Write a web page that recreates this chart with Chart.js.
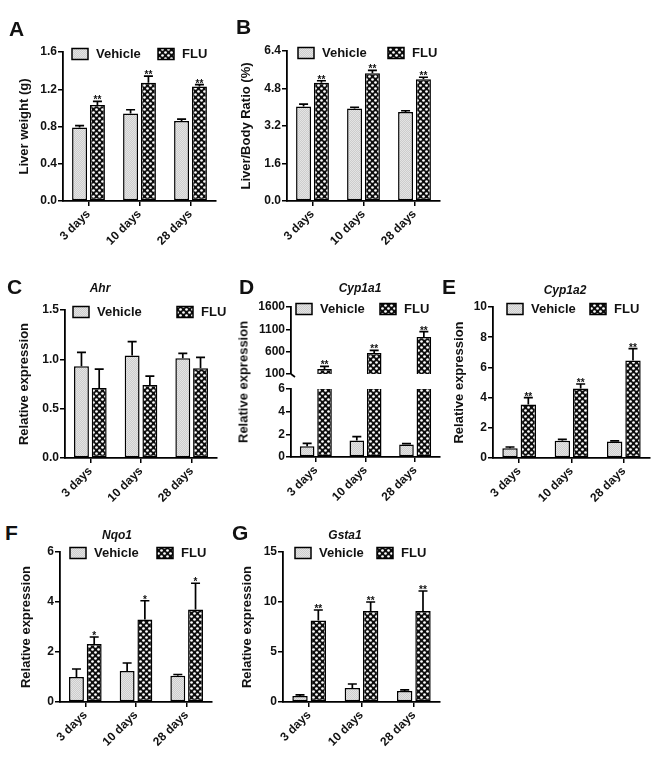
<!DOCTYPE html>
<html>
<head>
<meta charset="utf-8">
<script src="https://cdn.jsdelivr.net/npm/chart.js@4.4.1/dist/chart.umd.min.js"></script>
<style>
  html, body { margin: 0; padding: 0; background: #fff; }
  body { width: 660px; height: 777px; position: relative; overflow: hidden; font-family: "Liberation Sans", Arial, sans-serif; color: #111; }
  canvas { position: absolute; }
  .letter { position: absolute; font-weight: bold; font-size: 21px; line-height: 21px; color: #111; }
  .gene { position: absolute; font-weight: bold; font-style: italic; font-size: 12px; line-height: 14px; color: #111; transform: translateX(-50%); white-space: nowrap; }
  .ytitle { position: absolute; font-weight: bold; font-size: 13px; line-height: 15px; color: #111; white-space: nowrap; transform: translate(-50%, -50%) rotate(-90deg); }
</style>
</head>
<body>
<script>
// ---------------- DATA ----------------
const categories = ['3 days', '10 days', '28 days'];
const seriesNames = ['Vehicle', 'FLU'];

// A: Liver weight (g)
const liverWeightVehicle = [0.79, 0.94, 0.86];
const liverWeightVehicleErr = [0.02, 0.04, 0.02];
const liverWeightFlu = [1.03, 1.27, 1.23];
const liverWeightFluErr = [0.04, 0.07, 0.02];
const liverWeightStars = ['**', '**', '**'];
const liverWeightTicks = [0, 0.4, 0.8, 1.2, 1.6];
const liverWeightTickLabels = ['0.0', '0.4', '0.8', '1.2', '1.6'];

// B: Liver/Body ratio (%)
const ratioVehicle = [4.03, 3.95, 3.80];
const ratioVehicleErr = [0.10, 0.05, 0.05];
const ratioFlu = [5.05, 5.45, 5.20];
const ratioFluErr = [0.08, 0.12, 0.08];
const ratioStars = ['**', '**', '**'];
const ratioTicks = [0, 1.6, 3.2, 4.8, 6.4];
const ratioTickLabels = ['0.0', '1.6', '3.2', '4.8', '6.4'];

// C: Ahr
const ahrVehicle = [0.93, 1.04, 1.01];
const ahrVehicleErr = [0.14, 0.14, 0.05];
const ahrFlu = [0.71, 0.74, 0.91];
const ahrFluErr = [0.19, 0.09, 0.11];
const ahrStars = ['', '', ''];
const ahrTicks = [0, 0.5, 1.0, 1.5];
const ahrTickLabels = ['0.0', '0.5', '1.0', '1.5'];

// D: Cyp1a1 (broken axis)
const cyp1a1Vehicle = [0.95, 1.45, 1.10];
const cyp1a1VehicleErr = [0.25, 0.35, 0.08];
const cyp1a1Flu = [210, 570, 930];
const cyp1a1FluErr = [60, 60, 120];
const cyp1a1Stars = ['**', '**', '**'];
const cyp1a1UpperTicks = [100, 600, 1100, 1600];
const cyp1a1UpperTickLabels = ['100', '600', '1100', '1600'];
const cyp1a1LowerTicks = [0, 2, 4, 6];
const cyp1a1LowerTickLabels = ['0', '2', '4', '6'];

// E: Cyp1a2
const cyp1a2Vehicle = [0.65, 1.15, 1.10];
const cyp1a2VehicleErr = [0.08, 0.08, 0.03];
const cyp1a2Flu = [3.55, 4.60, 6.45];
const cyp1a2FluErr = [0.45, 0.30, 0.80];
const cyp1a2Stars = ['**', '**', '**'];
const cyp1a2Ticks = [0, 2, 4, 6, 8, 10];
const cyp1a2TickLabels = ['0', '2', '4', '6', '8', '10'];

// F: Nqo1
const nqo1Vehicle = [1.00, 1.24, 1.05];
const nqo1VehicleErr = [0.32, 0.32, 0.05];
const nqo1Flu = [2.32, 3.30, 3.70];
const nqo1FluErr = [0.28, 0.75, 1.05];
const nqo1Stars = ['*', '*', '*'];
const nqo1Ticks = [0, 2, 4, 6];
const nqo1TickLabels = ['0', '2', '4', '6'];

// G: Gsta1
const gsta1Vehicle = [0.60, 1.40, 1.10];
const gsta1VehicleErr = [0.12, 0.40, 0.12];
const gsta1Flu = [8.15, 9.10, 9.10];
const gsta1FluErr = [1.05, 0.90, 2.00];
const gsta1Stars = ['**', '**', '**'];
const gsta1Ticks = [0, 5, 10, 15];
const gsta1TickLabels = ['0', '5', '10', '15'];

// ---------------- STYLE HELPERS ----------------
const FONT = '"Liberation Sans", Arial, sans-serif';
Chart.defaults.font.family = FONT;
Chart.defaults.color = '#111';

function makePattern(kind) {
  const c = document.createElement('canvas');
  const g = c.getContext('2d');
  if (kind === 'vehicle') {
    c.width = 2; c.height = 2;
    g.fillStyle = '#e4e4e4'; g.fillRect(0, 0, 2, 2);
    g.fillStyle = '#cdcdcd';
    g.fillRect(0, 0, 1, 1); g.fillRect(1, 1, 1, 1);
  } else {
    c.width = 6; c.height = 6;
    g.fillStyle = '#0d0d0d'; g.fillRect(0, 0, 6, 6);
    g.fillStyle = '#ffffff';
    [[1.5, 1.5], [4.5, 4.5]].forEach(([x, y]) => { g.beginPath(); g.arc(x, y, 1.35, 0, Math.PI * 2); g.fill(); });
  }
  return document.createElement('canvas').getContext('2d').createPattern(c, 'repeat');
}
const vehicleFill = makePattern('vehicle');
const fluFill = makePattern('flu');

const errorBarPlugin = {
  id: 'errbars',
  afterDatasetsDraw(chart) {
    const ctx = chart.ctx;
    const ys = chart.scales.y;
    chart.data.datasets.forEach((ds, di) => {
      if (!ds.errors) return;
      const meta = chart.getDatasetMeta(di);
      meta.data.forEach((bar, i) => {
        const v = ds.data[i], e = ds.errors[i];
        if (v < ys.min || v > ys.max) return;
        const y0 = ys.getPixelForValue(v);
        const y1 = ys.getPixelForValue(v + e);
        ctx.save();
        ctx.strokeStyle = '#000';
        ctx.lineWidth = 1.7;
        ctx.beginPath();
        ctx.moveTo(bar.x, y0); ctx.lineTo(bar.x, y1);
        ctx.moveTo(bar.x - 4.5, y1); ctx.lineTo(bar.x + 4.5, y1);
        ctx.stroke();
        if (ds.stars && ds.stars[i]) {
          ctx.fillStyle = '#111';
          ctx.font = 'bold 10px ' + FONT;
          ctx.textAlign = 'center';
          ctx.textBaseline = 'alphabetic';
          ctx.fillText(ds.stars[i], bar.x, y1 + 2);
        }
        ctx.restore();
      });
    });
  }
};

const boxLegendPlugin = {
  id: 'boxLegend',
  afterDraw(chart, args, opts) {
    if (!opts || !opts.show) return;
    const { ctx, chartArea } = chart;
    const y = chartArea.top + opts.dy;
    chart.data.datasets.forEach((ds, i) => {
      const x = chartArea.left + opts.offsets[i];
      ctx.save();
      ctx.fillStyle = ds.backgroundColor;
      ctx.fillRect(x, y - 5.5, 16, 11);
      ctx.strokeStyle = '#000';
      ctx.lineWidth = 1.5;
      ctx.strokeRect(x, y - 5.5, 16, 11);
      ctx.fillStyle = '#111';
      ctx.font = 'bold 13px ' + FONT;
      ctx.textAlign = 'left';
      ctx.textBaseline = 'middle';
      ctx.fillText(ds.label, x + 24, y + 0.5);
      ctx.restore();
    });
  }
};

const axisBreakPlugin = {
  id: 'axisBreak',
  afterDraw(chart, args, opts) {
    if (!opts || !opts.show) return;
    const { ctx, chartArea } = chart;
    ctx.save();
    ctx.strokeStyle = '#000';
    ctx.lineWidth = 1.6;
    ctx.beginPath();
    ctx.moveTo(chartArea.left, chartArea.bottom);
    ctx.lineTo(chartArea.left + 4, chartArea.bottom + 3);
    ctx.stroke();
    ctx.restore();
  }
};

// ---------------- PANELS ----------------
function addChart(p) {
  const cv = document.createElement('canvas');
  cv.width = p.canvas.w; cv.height = p.canvas.h;
  cv.style.left = p.canvas.x + 'px'; cv.style.top = p.canvas.y + 'px';
  cv.style.width = p.canvas.w + 'px'; cv.style.height = p.canvas.h + 'px';
  document.body.appendChild(cv);

  const yWidth = p.plot.l - p.canvas.x;
  const xHeight = p.canvas.y + p.canvas.h - p.plot.b;
  const padTop = p.plot.t - p.canvas.y;
  const padRight = p.canvas.x + p.canvas.w - p.plot.r;

  const datasets = [
    { label: seriesNames[0], data: p.vehicle, errors: p.vehicleErr, stars: null,
      backgroundColor: vehicleFill, borderColor: '#000', borderWidth: 1.5, borderSkipped: false,
      categoryPercentage: 0.7, barPercentage: 0.84, clip: p.clip },
    { label: seriesNames[1], data: p.flu, errors: p.fluErr, stars: p.stars,
      backgroundColor: fluFill, borderColor: '#000', borderWidth: 1.5, borderSkipped: false,
      categoryPercentage: 0.7, barPercentage: 0.84, clip: p.clip }
  ];

  const xScale = {
    type: 'category',
    display: !p.hideX,
    offset: true,
    border: { display: true, color: '#000', width: 1.8 },
    grid: { display: true, drawOnChartArea: false, drawTicks: true, tickLength: 5, color: '#000', lineWidth: 1.5, offset: false },
    ticks: { autoSkip: false, minRotation: 45, maxRotation: 45, padding: 1, color: '#111', font: { size: 12, weight: 'bold' } }
  };
  if (!p.hideX) xScale.afterFit = s => { s.height = xHeight; };

  const yScale = {
    type: 'linear',
    min: p.ticks[0], max: p.ticks[p.ticks.length - 1],
    border: { display: true, color: '#000', width: 1.8 },
    grid: { display: true, drawOnChartArea: false, drawTicks: true, tickLength: 5, color: '#000', lineWidth: 1.5 },
    afterBuildTicks: s => { s.ticks = p.ticks.map(v => ({ value: v })); },
    afterFit: s => { s.width = yWidth; },
    ticks: { padding: 1, color: '#111', font: { size: 12, weight: 'bold' },
      callback: (v, i) => p.tickLabels[i] },
    title: { display: !!p.yTitle, text: p.yTitle || '', color: '#111', padding: 0,
      font: { size: 13, weight: 'bold' } }
  };

  new Chart(cv, {
    type: 'bar',
    data: { labels: categories, datasets },
    options: {
      responsive: false, animation: false, devicePixelRatio: 1,
      layout: { autoPadding: false, padding: { left: 0, top: padTop, right: padRight, bottom: p.hideX ? (p.canvas.y + p.canvas.h - p.plot.b) : 0 } },
      plugins: {
        legend: { display: false }, tooltip: { enabled: false },
        boxLegend: p.legend ? { show: true, dy: p.legend.dy, offsets: p.legend.offsets } : { show: false },
        axisBreak: { show: !!p.breakMark }
      },
      scales: { x: xScale, y: yScale }
    },
    plugins: [errorBarPlugin, boxLegendPlugin, axisBreakPlugin]
  });
}

const panels = [
  { canvas: { x: 17, y: 36, w: 210, h: 234 }, plot: { l: 63, t: 52, r: 216, b: 201 },
    vehicle: liverWeightVehicle, vehicleErr: liverWeightVehicleErr, flu: liverWeightFlu, fluErr: liverWeightFluErr,
    stars: liverWeightStars, ticks: liverWeightTicks, tickLabels: liverWeightTickLabels, yTitle: 'Liver weight (g)',
    legend: { dy: 2, offsets: [9, 95] } },
  { canvas: { x: 239, y: 36, w: 210, h: 234 }, plot: { l: 287, t: 51, r: 440, b: 201 },
    vehicle: ratioVehicle, vehicleErr: ratioVehicleErr, flu: ratioFlu, fluErr: ratioFluErr,
    stars: ratioStars, ticks: ratioTicks, tickLabels: ratioTickLabels, yTitle: 'Liver/Body Ratio (%)',
    legend: { dy: 2, offsets: [11, 101] } },
  { canvas: { x: 17, y: 296, w: 210, h: 224 }, plot: { l: 65, t: 310, r: 217, b: 458 },
    vehicle: ahrVehicle, vehicleErr: ahrVehicleErr, flu: ahrFlu, fluErr: ahrFluErr,
    stars: ahrStars, ticks: ahrTicks, tickLabels: ahrTickLabels, yTitle: 'Relative expression',
    legend: { dy: 2, offsets: [8, 112] } },
  { canvas: { x: 225, y: 295, w: 220, h: 90 }, plot: { l: 291, t: 307, r: 440, b: 374 }, hideX: true, clip: 0,
    vehicle: cyp1a1Vehicle, vehicleErr: cyp1a1VehicleErr, flu: cyp1a1Flu, fluErr: cyp1a1FluErr,
    stars: cyp1a1Stars, ticks: cyp1a1UpperTicks, tickLabels: cyp1a1UpperTickLabels, yTitle: null,
    legend: { dy: 2, offsets: [5, 89] }, breakMark: true },
  { canvas: { x: 225, y: 380, w: 220, h: 140 }, plot: { l: 291, t: 389, r: 440, b: 457 }, clip: 0,
    vehicle: cyp1a1Vehicle, vehicleErr: cyp1a1VehicleErr, flu: cyp1a1Flu, fluErr: cyp1a1FluErr,
    stars: cyp1a1Stars, ticks: cyp1a1LowerTicks, tickLabels: cyp1a1LowerTickLabels, yTitle: null, legend: null },
  { canvas: { x: 452, y: 295, w: 208, h: 225 }, plot: { l: 493, t: 307, r: 650, b: 458 },
    vehicle: cyp1a2Vehicle, vehicleErr: cyp1a2VehicleErr, flu: cyp1a2Flu, fluErr: cyp1a2FluErr,
    stars: cyp1a2Stars, ticks: cyp1a2Ticks, tickLabels: cyp1a2TickLabels, yTitle: 'Relative expression',
    legend: { dy: 2, offsets: [14, 97] } },
  { canvas: { x: 19, y: 540, w: 200, h: 237 }, plot: { l: 60, t: 552, r: 212, b: 702 },
    vehicle: nqo1Vehicle, vehicleErr: nqo1VehicleErr, flu: nqo1Flu, fluErr: nqo1FluErr,
    stars: nqo1Stars, ticks: nqo1Ticks, tickLabels: nqo1TickLabels, yTitle: 'Relative expression',
    legend: { dy: 1, offsets: [10, 97] } },
  { canvas: { x: 240, y: 540, w: 210, h: 237 }, plot: { l: 283, t: 552, r: 440, b: 702 },
    vehicle: gsta1Vehicle, vehicleErr: gsta1VehicleErr, flu: gsta1Flu, fluErr: gsta1FluErr,
    stars: gsta1Stars, ticks: gsta1Ticks, tickLabels: gsta1TickLabels, yTitle: 'Relative expression',
    legend: { dy: 1, offsets: [12, 94] } }
];
panels.forEach(addChart);

// ---------------- TEXT LABELS ----------------
function addDiv(cls, text, x, y) {
  const d = document.createElement('div');
  d.className = cls; d.textContent = text;
  d.style.left = x + 'px'; d.style.top = y + 'px';
  document.body.appendChild(d);
}
addDiv('letter', 'A', 9, 18);
addDiv('letter', 'B', 236, 16);
addDiv('letter', 'C', 7, 276);
addDiv('letter', 'D', 239, 276);
addDiv('letter', 'E', 442, 276);
addDiv('letter', 'F', 5, 522);
addDiv('letter', 'G', 232, 522);
addDiv('gene', 'Ahr', 100, 281);
addDiv('gene', 'Cyp1a1', 360, 281);
addDiv('gene', 'Cyp1a2', 565, 283);
addDiv('gene', 'Nqo1', 117, 528);
addDiv('gene', 'Gsta1', 345, 528);
addDiv('ytitle', 'Relative expression', 243, 382);
</script>
</body>
</html>
